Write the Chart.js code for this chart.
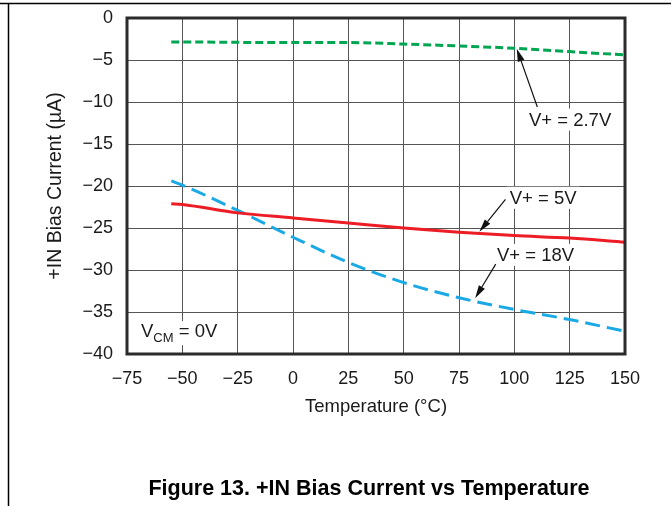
<!DOCTYPE html>
<html>
<head>
<meta charset="utf-8">
<script src="https://cdn.jsdelivr.net/npm/chart.js@4"></script>
<style>
  html, body { margin: 0; padding: 0; background: #fff; }
  #wrap { width: 671px; height: 506px; position: relative; }
</style>
</head>
<body>
<div id="wrap"><canvas id="biasChart" width="671" height="506"></canvas></div>
<script>
const temps = [-55, -50, -25, 0, 25, 50, 75, 100, 125, 150];
const bias27 = [-2.85, -2.85, -2.9, -2.93, -2.93, -3.1, -3.33, -3.6, -4.0, -4.4];
const bias5 = [-22.1, -22.2, -23.2, -23.8, -24.4, -25.0, -25.5, -25.9, -26.2, -26.7];
const bias18 = [-19.4, -19.9, -22.9, -26.1, -29.1, -31.5, -33.3, -34.7, -35.9, -37.3];

// annotation labels in data units, arrows: [tailX, tailY, tipX, tipY]
const labels = [
  { text: 'V+ = 2.7V', x: 125.2, y: -12.1 },
  { text: 'V+ = 5V', x: 113, y: -21.4 },
  { text: 'V+ = 18V', x: 109.6, y: -28.2 }
];
const arrows = [
  [110.4, -10.6, 101.1, -3.65],
  [96, -21.6, 84.2, -25.45],
  [91.6, -29.3, 82.3, -33.35]
];

const FONT = '"Liberation Sans", Arial, sans-serif';
const minus = v => String(v).replace('-', '\u2212');

function toXY(d) {
  return temps.map((t, i) => ({ x: t, y: d[i] }));
}

const decor = {
  id: 'decor',
  beforeDraw(chart) {
    const { ctx } = chart;
    ctx.save();
    ctx.fillStyle = '#fff';
    ctx.fillRect(0, 0, chart.width, chart.height);
    ctx.strokeStyle = '#000';
    ctx.lineWidth = 1.5;
    ctx.beginPath();
    ctx.moveTo(0, 3.5); ctx.lineTo(chart.width, 3.5);
    ctx.moveTo(8.5, 3.5); ctx.lineTo(8.5, chart.height);
    ctx.stroke();
    ctx.restore();
  },
  afterDatasetsDraw(chart) {
    const { ctx, chartArea: a, scales: { x, y } } = chart;
    ctx.save();
    // frame
    ctx.strokeStyle = '#2b2b2b';
    ctx.lineWidth = 3;
    ctx.strokeRect(a.left, a.top, a.right - a.left, a.bottom - a.top);

    ctx.font = '18.5px ' + FONT;
    ctx.textAlign = 'center';
    ctx.textBaseline = 'middle';
    labels.forEach(l => {
      const px = x.getPixelForValue(l.x), py = y.getPixelForValue(l.y);
      const w = ctx.measureText(l.text).width + 6;
      ctx.fillStyle = '#fff';
      ctx.fillRect(px - w / 2, py - 11, w, 22);
      ctx.fillStyle = '#1a1a1a';
      ctx.fillText(l.text, px, py + 1);
    });

    // VCM label
    const vx = x.getPixelForValue(-50.6), vy = y.getPixelForValue(-37.4);
    ctx.fillStyle = '#fff';
    ctx.fillRect(vx - 43, vy - 11, 86, 24);
    ctx.fillStyle = '#1a1a1a';
    ctx.textAlign = 'left';
    let cx = vx - 40;
    ctx.fillText('V', cx, vy);
    cx += ctx.measureText('V').width;
    ctx.font = '13px ' + FONT;
    ctx.fillText('CM', cx, vy + 6);
    cx += ctx.measureText('CM').width;
    ctx.font = '18.5px ' + FONT;
    ctx.fillText(' = 0V', cx, vy);

    // arrows
    ctx.strokeStyle = '#111';
    ctx.fillStyle = '#111';
    ctx.lineWidth = 1.2;
    arrows.forEach(([x0, y0, x1, y1]) => {
      const ax = x.getPixelForValue(x0), ay = y.getPixelForValue(y0);
      const bx = x.getPixelForValue(x1), by = y.getPixelForValue(y1);
      const ang = Math.atan2(by - ay, bx - ax);
      const len = 13, half = 3.5;
      const hx = bx - len * Math.cos(ang), hy = by - len * Math.sin(ang);
      ctx.beginPath();
      ctx.moveTo(ax, ay); ctx.lineTo(hx, hy);
      ctx.stroke();
      ctx.beginPath();
      ctx.moveTo(bx, by);
      ctx.lineTo(hx + half * Math.sin(ang), hy - half * Math.cos(ang));
      ctx.lineTo(hx - half * Math.sin(ang), hy + half * Math.cos(ang));
      ctx.closePath();
      ctx.fill();
    });

    // caption
    ctx.font = 'bold 21.5px ' + FONT;
    ctx.textAlign = 'center';
    ctx.fillStyle = '#000';
    ctx.fillText('Figure 13. +IN Bias Current vs Temperature', 369, 489);
    ctx.restore();
  }
};

const ctx = document.getElementById('biasChart').getContext('2d');
new Chart(ctx, {
  type: 'line',
  data: {
    datasets: [
      {
        label: 'V+ = 2.7V',
        data: toXY(bias27),
        borderColor: '#00a651',
        borderWidth: 3,
        borderDash: [8, 4],
        pointRadius: 0,
        cubicInterpolationMode: 'monotone'
      },
      {
        label: 'V+ = 5V',
        data: toXY(bias5),
        borderColor: '#ee1c25',
        borderWidth: 3,
        pointRadius: 0,
        cubicInterpolationMode: 'monotone'
      },
      {
        label: 'V+ = 18V',
        data: toXY(bias18),
        borderColor: '#19a9e5',
        borderWidth: 3,
        borderDash: [15, 7],
        pointRadius: 0,
        cubicInterpolationMode: 'monotone'
      }
    ]
  },
  options: {
    responsive: false,
    animation: false,
    layout: { padding: { left: 0, top: 18, right: 46, bottom: 82 } },
    plugins: { legend: { display: false }, tooltip: { enabled: false } },
    scales: {
      x: {
        type: 'linear',
        min: -75,
        max: 150,
        afterFit: s => { s.height = 70; s.paddingLeft = 0; s.paddingRight = 0; },
        grid: { color: '#555', lineWidth: 1, drawTicks: false },
        border: { display: false },
        ticks: {
          stepSize: 25,
          padding: 14,
          color: '#1a1a1a',
          font: { family: FONT, size: 18 },
          callback: v => minus(v)
        },
        title: {
          display: true,
          text: 'Temperature (°C)',
          color: '#1a1a1a',
          font: { family: FONT, size: 18.5 },
          padding: { top: 0, bottom: 6 }
        }
      },
      y: {
        min: -40,
        max: 0,
        afterFit: s => { s.width = 127; s.paddingTop = 0; s.paddingBottom = 0; },
        grid: { color: '#555', lineWidth: 1, drawTicks: false },
        border: { display: false },
        ticks: {
          stepSize: 5,
          padding: 14,
          color: '#1a1a1a',
          font: { family: FONT, size: 18 },
          callback: v => minus(v)
        },
        title: {
          display: true,
          text: '+IN Bias Current (µA)',
          color: '#1a1a1a',
          font: { family: FONT, size: 19.5 },
          padding: { top: 44, bottom: 0 }
        }
      }
    }
  },
  plugins: [decor]
});
</script>
</body>
</html>
